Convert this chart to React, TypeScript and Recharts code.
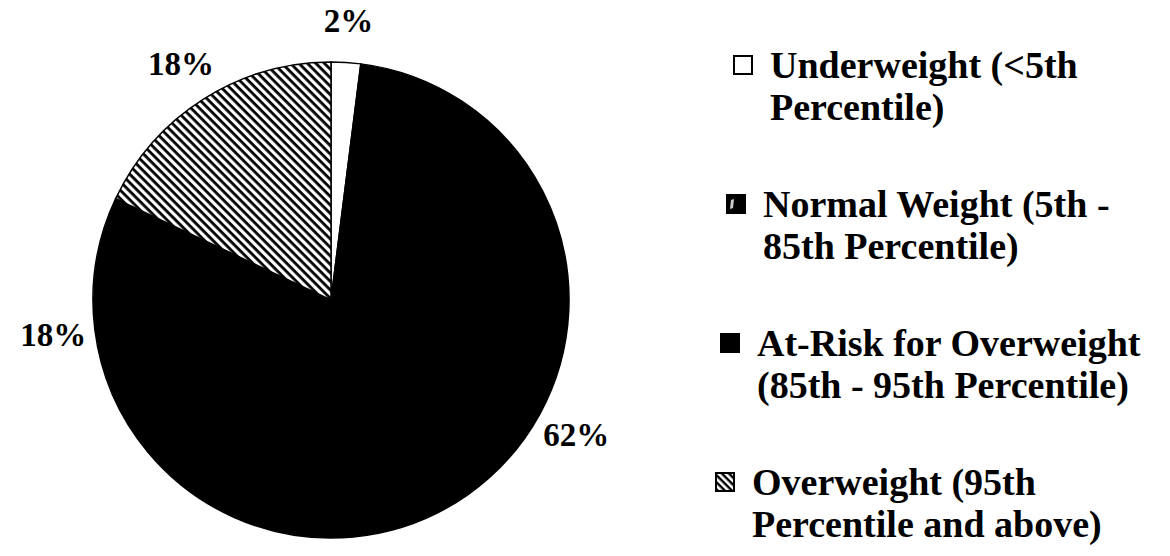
import React from "react";
import { PieChart, Pie, Cell, Legend } from "recharts";

// weight status shares (percent)
const categories = ["Underweight", "Normal Weight", "At-Risk for Overweight", "Overweight"];
const shares = [2, 62, 18, 18];
const legendLine1 = ["Underweight (<5th", "Normal Weight (5th -", "At-Risk for Overweight", "Overweight (95th"];
const legendLine2 = ["Percentile)", "85th Percentile)", "(85th - 95th Percentile)", "Percentile and above)"];

const FONT = '"Liberation Serif", "Times New Roman", serif';
const fills = ["#ffffff", "#000000", "#000000", "url(#hatch)"];
// the scan is slightly rotated, so each legend row starts a bit further left
const legendIndent = [18, 11, 5, 0];

const data = categories.map((name, i) => ({ name, value: shares[i] }));

const RADIAN = Math.PI / 180;

function renderLabel(props: any) {
  const { cx, cy, midAngle, outerRadius, value } = props;
  const r = outerRadius + 42;
  const x = cx + r * Math.cos(-midAngle * RADIAN);
  const y = cy + r * Math.sin(-midAngle * RADIAN);
  return (
    <text
      x={x}
      y={y}
      textAnchor="middle"
      dominantBaseline="central"
      fill="#000"
      style={{ fontFamily: FONT, fontWeight: 700, fontSize: 33 }}
    >
      {`${value}%`}
    </text>
  );
}

function Marker({ index }: { index: number }) {
  return (
    <svg width={20} height={20} style={{ position: "absolute", left: legendIndent[index], top: 11 }}>
      <defs>
        <pattern id={`lg-hatch-${index}`} patternUnits="userSpaceOnUse" width={5} height={5} patternTransform="rotate(45)">
          <rect width={5} height={5} fill="#fff" />
          <rect width={5} height={2.4} fill="#000" />
        </pattern>
      </defs>
      {index === 0 && <rect x={1} y={1} width={18} height={18} fill="#fff" stroke="#000" strokeWidth={2} />}
      {index === 1 && (
        <g>
          <rect x={0} y={0} width={20} height={20} fill="#000" />
          <path d="M5 6 L8 5 L7 14 L4 15 Z" fill="#fff" opacity={0.8} />
        </g>
      )}
      {index === 2 && <rect x={0} y={0} width={20} height={20} fill="#000" />}
      {index === 3 && <rect x={1} y={1} width={18} height={18} fill={`url(#lg-hatch-${index})`} stroke="#000" strokeWidth={2} />}
    </svg>
  );
}

function renderLegend() {
  return (
    <div style={{ fontFamily: FONT, fontWeight: 700, fontSize: 38, color: "#000" }}>
      {categories.map((c, i) => (
        <div
          key={c}
          style={{ position: "relative", height: 139, paddingLeft: 37 + legendIndent[i], lineHeight: "42px" }}
        >
          <Marker index={i} />
          <div style={{ whiteSpace: "nowrap" }}>{legendLine1[i]}</div>
          <div style={{ whiteSpace: "nowrap" }}>{legendLine2[i]}</div>
        </div>
      ))}
    </div>
  );
}

export default function App() {
  return (
    <div style={{ position: "absolute", left: 0, top: 0, width: 1170, height: 556, background: "#fff" }}>
      <PieChart width={1170} height={556} margin={{ top: 0, right: 0, bottom: 0, left: 0 }}>
        <defs>
          <pattern id="hatch" patternUnits="userSpaceOnUse" width={6} height={6} patternTransform="rotate(45)">
            <rect width={6} height={6} fill="#fff" />
            <rect width={6} height={2.8} fill="#000" />
          </pattern>
        </defs>
        <Pie
          data={data}
          dataKey="value"
          nameKey="name"
          cx={331}
          cy={300}
          outerRadius={238}
          startAngle={90}
          endAngle={-270}
          stroke="#000"
          strokeWidth={1.5}
          label={renderLabel}
          labelLine={false}
          isAnimationActive={false}
        >
          {data.map((d, i) => (
            <Cell key={d.name} fill={fills[i]} />
          ))}
        </Pie>
        <Legend
          layout="vertical"
          align="right"
          verticalAlign="top"
          content={renderLegend}
          wrapperStyle={{ position: "absolute", left: 715, top: 44, width: 455 }}
        />
      </PieChart>
    </div>
  );
}
